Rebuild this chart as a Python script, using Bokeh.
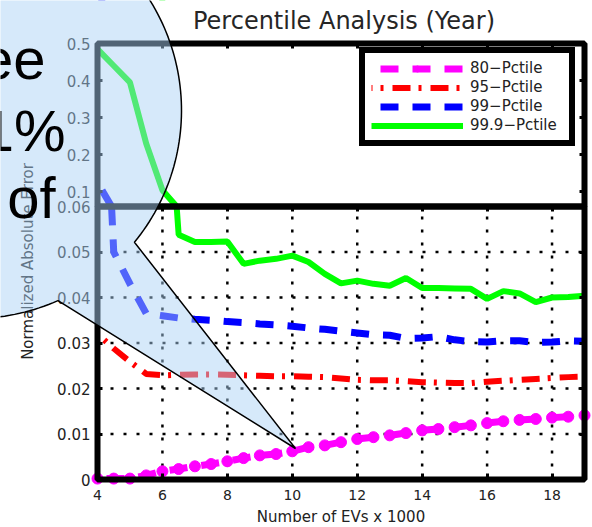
import numpy as np
from bokeh.plotting import figure
from bokeh.models import (Range1d, LinearAxis, FixedTicker, BoxAnnotation,
                          Legend, LegendItem, PolyAnnotation, Label)
from bokeh.embed import file_html
from bokeh.resources import INLINE

# ---------------- data ----------------
ev_k = [4.0, 4.5, 5.0, 5.5, 6.0, 6.5, 7.0, 7.5, 8.0, 8.5, 9.0, 9.5, 10.0, 10.5, 11.0,
        11.5, 12.0, 12.5, 13.0, 13.5, 14.0, 14.5, 15.0, 15.5, 16.0, 16.5, 17.0, 17.5,
        18.0, 18.5, 19.0]
p80 = [0.0002, 0.0002, 0.0002, 0.0009, 0.0018, 0.0023, 0.0029, 0.0034, 0.0040, 0.0047,
       0.0053, 0.0056, 0.0062, 0.0071, 0.0075, 0.0082, 0.0089, 0.0093, 0.0097, 0.0102,
       0.0108, 0.0111, 0.0115, 0.0119, 0.0124, 0.0128, 0.0131, 0.0133, 0.0136, 0.0138,
       0.0141]
p95 = [0.0320, 0.0288, 0.0259, 0.0232, 0.0229, 0.0230, 0.0231, 0.0231, 0.0230, 0.0229,
       0.0228, 0.0227, 0.0227, 0.0226, 0.0225, 0.0222, 0.0219, 0.0218, 0.0218, 0.0216,
       0.0214, 0.0213, 0.0212, 0.0212, 0.0215, 0.0217, 0.0219, 0.0221, 0.0223, 0.0225,
       0.0226]
p99 = [0.125, 0.0500, 0.0430, 0.0365, 0.0360, 0.0355, 0.0352, 0.0350, 0.0347, 0.0345,
       0.0342, 0.0340, 0.0337, 0.0333, 0.0330, 0.0326, 0.0322, 0.0318, 0.0317, 0.0310,
       0.0311, 0.0314, 0.0307, 0.0303, 0.0302, 0.0305, 0.0305, 0.0301, 0.0302, 0.0305,
       0.0304]
p999 = [0.485, 0.440, 0.395, 0.230, 0.104, 0.0538, 0.0522, 0.0522, 0.0523, 0.0474,
        0.0481, 0.0485, 0.0492, 0.0478, 0.0452, 0.0431, 0.0437, 0.0430, 0.0426, 0.0443,
        0.0421, 0.0421, 0.0420, 0.0419, 0.0397, 0.0414, 0.0409, 0.0390, 0.0400, 0.0401,
        0.0404]
series_names = ["80\u2212Pctile", "95\u2212Pctile", "99\u2212Pctile", "99.9\u2212Pctile"]
title_text = "Percentile Analysis (Year)"
x_label = "Number of EVs x 1000"
y_label = "Normalized Absolute Error"
x_ticks = [4, 6, 8, 10, 12, 14, 16, 18]
lower_ticks = [0, 0.01, 0.02, 0.03, 0.04, 0.05, 0.06]
lower_tick_labels = ["0", "0.01", "0.02", "0.03", "0.04", "0.05", "0.06"]
upper_ticks = [0.1, 0.2, 0.3, 0.4, 0.5]
upper_tick_labels = ["0.1", "0.2", "0.3", "0.4", "0.5"]
callout_lines = ["ee", "1%", "of"]

X_MIN, X_MAX = 4, 19
BREAK_V, TOP_V = 0.06, 0.5

# ---------------- layout (canvas pixels, top-left origin) ----------------
CW, CH = 592, 527
PL, PR, PT, PB = 97, 584, 43, 479   # box of the axes
BRK = 206                            # canvas y of the panel break

sx_per = (PR - PL) / (X_MAX - X_MIN)
ly_per = (PB - BRK) / BREAK_V
uy_per = (BRK - PT) / (TOP_V - BREAK_V)
u_top = BREAK_V + (BRK - PT) / ly_per     # top of the axes box in lower-panel units

FONT = "DejaVu Sans"
TXT = "#222222"

p = figure(width=CW, height=CH, output_backend="svg", toolbar_location=None, title=None,
           x_range=Range1d(X_MIN - PL / sx_per, X_MAX + (CW - PR) / sx_per),
           y_range=Range1d(-(CH - PB) / ly_per, BREAK_V + BRK / ly_per),
           x_axis_type=None, y_axis_type=None,
           min_border_left=0, min_border_right=0, min_border_top=0, min_border_bottom=0)
p.extra_y_ranges = {"upper": Range1d(BREAK_V - (CH - BRK) / uy_per, TOP_V + PT / uy_per)}
p.background_fill_color = "white"
p.border_fill_color = "white"
p.outline_line_color = None

# ---------------- axes ----------------
def style_ticks(ax, tick_in):
    ax.axis_line_color = None
    ax.major_tick_in = tick_in
    ax.major_tick_out = 0
    ax.major_tick_line_width = 3
    ax.minor_tick_line_color = None

xaxis = LinearAxis(fixed_location=0, bounds=(X_MIN, X_MAX),
                   ticker=FixedTicker(ticks=x_ticks), axis_label=x_label)
style_ticks(xaxis, 6)
xaxis.major_label_text_font = FONT
xaxis.major_label_text_font_size = "14px"
xaxis.major_label_text_color = TXT
xaxis.major_label_standoff = 10
xaxis.axis_label_text_font = FONT
xaxis.axis_label_text_font_size = "15px"
xaxis.axis_label_text_font_style = "normal"
xaxis.axis_label_text_color = TXT
xaxis.axis_label_standoff = 5
p.add_layout(xaxis, "below")

upper_pos = [BREAK_V + (v - BREAK_V) * uy_per / ly_per for v in upper_ticks]
all_pos = lower_ticks + upper_pos
overrides = {pos: lab for pos, lab in zip(all_pos, lower_tick_labels + upper_tick_labels)}
yaxis = LinearAxis(fixed_location=X_MIN, bounds=(0, u_top),
                   ticker=FixedTicker(ticks=all_pos), axis_label=y_label,
                   major_label_overrides=overrides)
style_ticks(yaxis, 5)
yaxis.major_label_text_font = FONT
yaxis.major_label_text_font_size = "15px"
yaxis.major_label_text_color = TXT
yaxis.major_label_standoff = 7
yaxis.axis_label_text_font = FONT
yaxis.axis_label_text_font_size = "15px"
yaxis.axis_label_text_font_style = "normal"
yaxis.axis_label_text_color = TXT
yaxis.axis_label_standoff = 17
p.add_layout(yaxis, "left")

# tick marks only (no labels) on the other sides of both panels
for loc, side in [(u_top, "above"), (BREAK_V, "above")]:
    ax = LinearAxis(fixed_location=loc, bounds=(X_MIN, X_MAX),
                    ticker=FixedTicker(ticks=x_ticks[1:]))
    style_ticks(ax, 5)
    ax.major_label_text_color = None
    p.add_layout(ax, side)
rax = LinearAxis(fixed_location=X_MAX, bounds=(0, u_top),
                 ticker=FixedTicker(ticks=lower_ticks[1:-1] + upper_pos[:-1]))
style_ticks(rax, 5)
rax.major_label_text_color = None
p.add_layout(rax, "right")

# ---------------- dotted grid (lower panel only) ----------------
gxs = x_ticks[1:]
gys = lower_ticks[1:-1]
p.segment(x0=gxs, y0=[0] * len(gxs), x1=gxs, y1=[BREAK_V] * len(gxs),
          line_color="black", line_width=2.5, line_dash="3 10", level="image")
p.segment(x0=[X_MIN] * len(gys), y0=gys, x1=[X_MAX] * len(gys), y1=gys,
          line_color="black", line_width=2.5, line_dash="3 10", level="image")

# ---------------- series ----------------
styles = {
    "p80": dict(color="#ff00ff", line_width=7, line_dash="18 14", line_dash_offset=23),
    "p95": dict(color="#ff0000", line_width=6, line_dash="3 9 18 8", line_dash_offset=29),
    "p99": dict(color="#0000ff", line_width=7, line_dash="18 14", line_dash_offset=23),
    "p999": dict(color="#00ff00", line_width=6),
}
r80 = p.line(ev_k, p80, level="underlay", **styles["p80"])
r80m = p.scatter(ev_k, p80, size=11, color="#ff00ff", level="underlay")
r95 = p.line(ev_k, p95, level="underlay", **styles["p95"])
r99 = p.line(ev_k, p99, level="underlay", **styles["p99"])
r999 = p.line(ev_k, p999, level="underlay", **styles["p999"])

# hide everything of the lower scale that lies above the break
p.add_layout(BoxAnnotation(bottom=BREAK_V, top=100 * TOP_V, left=X_MIN - 100,
                           right=X_MAX + 100, fill_color="white", fill_alpha=1.0,
                           line_color=None, level="glyph"))

# upper panel: the values above the break, on the upper scale
p.line(ev_k[:2], p99[:2], y_range_name="upper", level="guide", **styles["p99"])
p.line(ev_k[:6], p999[:6], y_range_name="upper", level="guide", **styles["p999"])

# boxes of the two panels
p.add_layout(BoxAnnotation(left=X_MIN, right=X_MAX, bottom=0, top=BREAK_V,
                           fill_alpha=0, line_color="black", line_alpha=1.0,
                           line_width=6, level="annotation"))
p.add_layout(BoxAnnotation(left=X_MIN, right=X_MAX, bottom=BREAK_V, top=TOP_V,
                           y_range_name="upper", fill_alpha=0, line_color="black",
                           line_alpha=1.0, line_width=6, level="annotation"))

legend = Legend(items=[LegendItem(label=series_names[0], renderers=[r80, r80m]),
                       LegendItem(label=series_names[1], renderers=[r95]),
                       LegendItem(label=series_names[2], renderers=[r99]),
                       LegendItem(label=series_names[3], renderers=[r999])],
                location=(359, 381), margin=0, padding=6, spacing=1,
                glyph_width=92, glyph_height=15, label_height=15, label_width=93,
                label_standoff=7, label_text_font=FONT, label_text_font_size="15px",
                label_text_color=TXT, border_line_color="black", border_line_alpha=1.0,
                border_line_width=6, background_fill_color="white",
                background_fill_alpha=1.0)
p.add_layout(legend)

p.add_layout(Label(x=343.5, y=CH - 20, x_units="screen", y_units="screen", text=title_text,
                   text_align="center", text_baseline="middle", text_font=FONT,
                   text_font_size="24px", text_color="#262626"))

# ---------------- callout bubble (screen px from the canvas' lower-left) ----------------
cx, cy, r = -27.0, CH - 110.0, 208.0
ax_, ay_ = 57.0, CH - 299.0      # pointer base, left
bx_, by_ = 133.0, CH - 241.0     # pointer base, right
tx_, ty_ = 295.0, CH - 448.0     # pointer tip
thA, thB = np.arctan2(ay_ - cy, ax_ - cx), np.arctan2(by_ - cy, bx_ - cx)
th = np.linspace(thB, thA + 2 * np.pi, 240)
bx = list(cx + r * np.cos(th)) + [tx_]
by = list(cy + r * np.sin(th)) + [ty_]
p.add_layout(PolyAnnotation(xs=bx, ys=by, xs_units="screen", ys_units="screen",
                            fill_color="#a9d2f4", fill_alpha=0.48,
                            line_color="black", line_alpha=1.0, line_width=1.5,
                            level="overlay"))
for txt, lx, ly in zip(callout_lines, [45, 65, 55], [CH - 58, CH - 130, CH - 197]):
    p.add_layout(Label(x=lx, y=ly, x_units="screen", y_units="screen", text=txt,
                       text_align="right", text_baseline="alphabetic",
                       text_font="Liberation Sans", text_font_size="58px",
                       text_color="black", level="overlay"))

open("out.html", "w").write(file_html(p, INLINE))
